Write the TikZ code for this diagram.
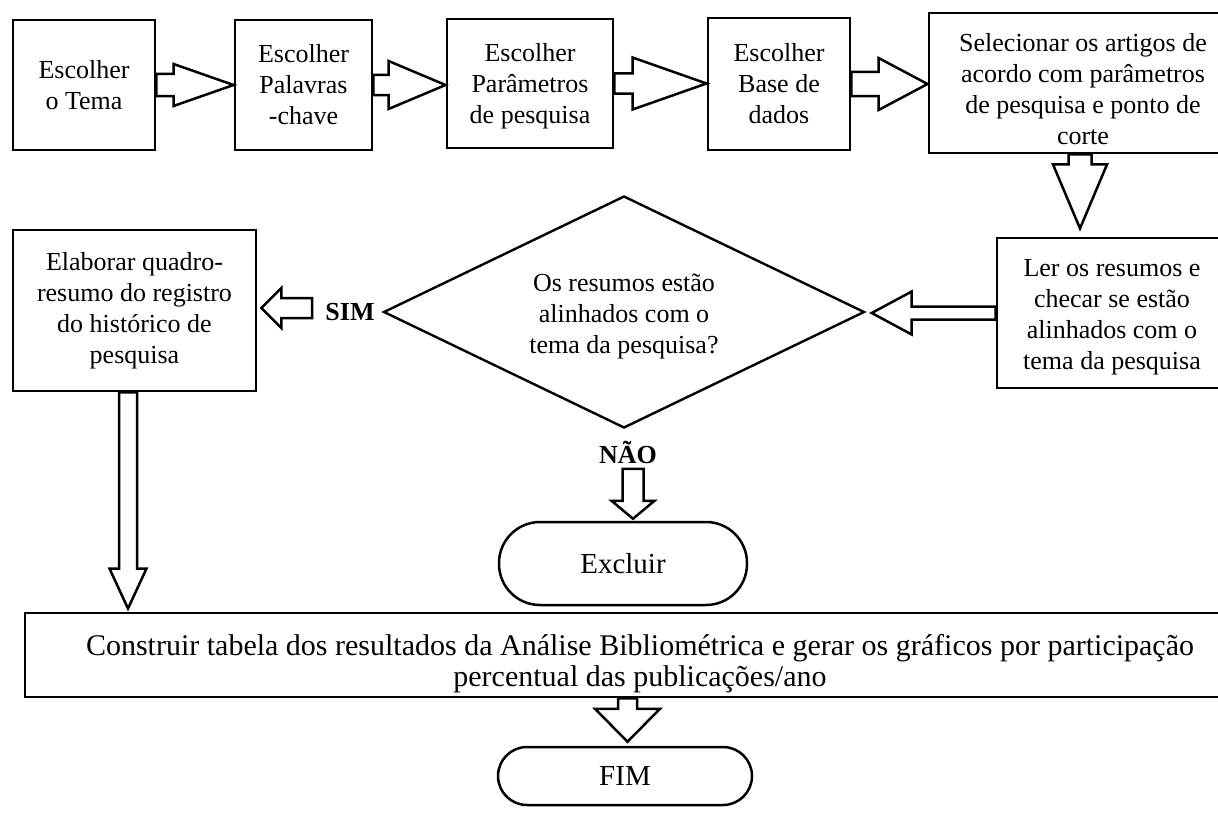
\documentclass[tikz,border=0pt]{standalone}
\usepackage{fontspec}
\setmainfont{Liberation Serif}
\usetikzlibrary{calc,shapes.geometric}

% Hollow block arrow from #1 to #2: shaft half-width #3, head half-width #4, head length #5
\newcommand{\fatarrow}[5]{%
  \path ($(#2)!#5!(#1)$) coordinate (fa-base);
  \draw[fat] ($(#1)!#3!90:(#2)$) -- ($(fa-base)!#3!90:(#2)$) -- ($(fa-base)!#4!90:(#2)$) -- (#2)
    -- ($(fa-base)!#4!-90:(#2)$) -- ($(fa-base)!#3!-90:(#2)$) -- ($(#1)!#3!-90:(#2)$) -- cycle;
}
% invisible strut that pushes the first text line down
\newcommand{\topstrut}[1]{\rule{0pt}{#1}}

\begin{document}
\begin{tikzpicture}[x=1pt,y=-1pt,
  txt/.style={font=\fontsize{26}{31}\selectfont},
  box/.style={txt, draw, line width=2.9pt, align=center, inner sep=0pt},
  term/.style={draw, line width=2.5pt, inner sep=0pt, font=\fontsize{29}{34}\selectfont},
  lbl/.style={inner sep=0pt, font=\fontsize{26}{31}\selectfont\bfseries},
  fat/.style={draw, fill=white, line width=2.5pt, line join=miter}]
\useasboundingbox (0,0) rectangle (1218,816);
\fill[white] (0,0) rectangle (1218,816);
\clip (0,0) rectangle (1218,816);

% top row
\node[box, minimum width=142pt, minimum height=130pt] (t1) at (84,85) {Escolher\\o Tema};
\node[box, minimum width=137pt, minimum height=130pt] (t2) at (303.5,85) {Escolher\\Palavras\\-chave};
\node[box, minimum width=166pt, minimum height=129pt] (t3) at (530,83.5) {\topstrut{24pt}Escolher\\Parâmetros\\de pesquisa};
\node[box, minimum width=142pt, minimum height=132pt] (t4) at (779,84) {Escolher\\Base de\\dados};
\node[box, minimum width=308pt, minimum height=140pt] (t5) at (1083,83) {\topstrut{30pt}Selecionar os artigos de\\acordo com parâmetros\\de pesquisa e ponto de\\corte};

% middle row
\node[box, minimum width=243pt, minimum height=161pt] (elab) at (134.5,310.5) {Elaborar quadro-\\resumo do registro\\do histórico de\\pesquisa};
\node[draw, diamond, aspect=2.07, minimum width=481pt, minimum height=232pt, inner sep=0pt,
      line width=2.4pt, align=center, txt] (dec) at (624,312) {\topstrut{26pt}Os resumos estão\\alinhados com o\\tema da pesquisa?};
\node[box, minimum width=230pt, minimum height=150pt] (ler) at (1112,313) {\topstrut{26pt}Ler os resumos e\\checar se estão\\alinhados com o\\tema da pesquisa};
\node[lbl] (sim) at (350,312) {SIM};
\node[lbl] (nao) at (628,452) {NÃO};

% terminals and final step
\node[term, minimum width=248pt, minimum height=83pt, rounded corners=41pt] (excl) at (623,563.5) {Excluir};
\node[box, font=\fontsize{30}{31}\selectfont, minimum width=1230pt, minimum height=84pt] (constr) at (640,655)
  {\topstrut{38pt}Construir tabela dos resultados da Análise Bibliométrica e gerar os gráficos por participação\\percentual das publicações/ano};
\node[term, minimum width=254pt, minimum height=58pt, rounded corners=29pt] (fim) at (625,776) {FIM};

% arrow end points
\coordinate (e2) at (t2.east -| t3.west);
\coordinate (e3) at (t3.east -| t4.west);
\coordinate (e4) at (t4.east -| t5.west);
\coordinate (s5) at ($(t5.south)+(-3,0)$);
\coordinate (e5) at ($(s5)+(0,74)$);
\coordinate (e6) at ($(ler.west -| dec.east)+(6,0)$);
\coordinate (s7) at ($(sim.west)+(-13,-4)$);
\coordinate (e7) at (s7 -| {$(elab.east)+(4,0)$});
\coordinate (e8) at ($(excl.north)+(10,-2)$);
\coordinate (s8) at ($(e8)+(0,-50)$);
\coordinate (s9) at ($(elab.south)+(-6.5,0)$);
\coordinate (e9) at ($(s9 |- constr.north)+(0,-3)$);
\coordinate (e10) at ($(fim.north)+(2.5,-4)$);
\coordinate (s10) at (e10 |- constr.south);

% block arrows
\fatarrow{t1.east}{t2.west}{11pt}{21pt}{60pt}
\fatarrow{t2.east}{e2}{10pt}{24pt}{57pt}
\fatarrow{t3.east}{e3}{10pt}{26pt}{74pt}
\fatarrow{t4.east}{e4}{12pt}{26pt}{49pt}
\fatarrow{s5}{e5}{11.5pt}{27pt}{64pt}
\fatarrow{ler.west}{e6}{6.5pt}{21.5pt}{40pt}
\fatarrow{s7}{e7}{10pt}{20pt}{20pt}
\fatarrow{s8}{e8}{10.5pt}{21.5pt}{18pt}
\fatarrow{s9}{e9}{9pt}{18.5pt}{40pt}
\fatarrow{s10}{e10}{9.5pt}{32.5pt}{33pt}
\end{tikzpicture}
\end{document}
